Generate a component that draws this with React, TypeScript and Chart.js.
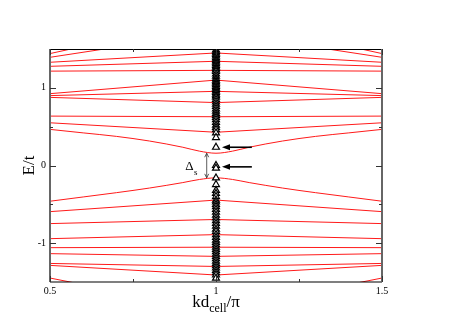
import React, { useEffect, useRef } from "react";
import { Chart, registerables } from "chart.js";

Chart.register(...registerables);

// ---- axis ranges & ticks ----
const X_MIN = 0.5;
const X_MAX = 1.5;
const Y_MIN = -1.5;
const Y_MAX = 1.5;
const xMajorTicks = [0.5, 1, 1.5];
const xMajorLabels = ["0.5", "1", "1.5"];
const xMinorTicks = [0.75, 1.25];
const yMajorTicks = [-1, 0, 1];
const yMajorLabels = ["-1", "0", "1"];
const yMinorTicks = [-0.5, 0.5];

// ---- straight (V / Λ shaped) bands: values at k = 0.5, 1.0, 1.5 ----
const bandK = [0.5, 1.0, 1.5];
const bandA = [1.441, 1.91, 1.441];
const bandB = [1.393, 1.72, 1.393];
const bandC = [1.329, 1.449, 1.329];
const bandD = [1.277, 1.342, 1.277];
const bandE = [1.215, 1.225, 1.215];
const bandF = [0.925, 1.1, 0.925];
const bandG = [0.9, 0.955, 0.9];
const bandH = [0.877, 0.81, 0.877];
const bandI = [0.636, 0.628, 0.636];
const bandJ = [0.55, 0.428, 0.55];
const bandL = [-0.594, -0.445, -0.594];
const bandM = [-0.748, -0.695, -0.748];
const bandN = [-0.942, -0.89, -0.942];
const bandO = [-1.058, -1.052, -1.058];
const bandP = [-1.135, -1.17, -1.135];
const bandQ = [-1.261, -1.3, -1.261];
const bandR = [-1.286, -1.41, -1.286];
const bandS = [-1.449, -1.87, -1.449];
const straightBands = [bandA, bandB, bandC, bandD, bandE, bandF, bandG, bandH, bandI, bandJ, bandL, bandM, bandN, bandO, bandP, bandQ, bandR, bandS];

// ---- gap bands (rounded near k = 1) ----
const gapK = [0.5, 0.6, 0.7, 0.8, 0.9, 0.95, 1.0, 1.05, 1.1, 1.2, 1.3, 1.4, 1.5];
const gapUpper = [0.465, 0.42, 0.375, 0.315, 0.235, 0.185, 0.158, 0.185, 0.235, 0.315, 0.375, 0.42, 0.465];
const gapLower = [-0.46, -0.405, -0.35, -0.29, -0.22, -0.18, -0.159, -0.18, -0.22, -0.29, -0.35, -0.405, -0.46];

// ---- discrete levels (triangles) at k = 1 ----
const levelK = 1.0;
const levels = [
  1.49, 1.47, 1.45, 1.43, 1.41, 1.39, 1.37, 1.35, 1.33, 1.31, 1.29, 1.27, 1.25, 1.23, 1.21, 1.18,
  1.15, 1.12, 1.1, 1.08, 1.06, 1.04, 1.02, 1.0, 0.98, 0.96, 0.94, 0.92, 0.9, 0.88, 0.85, 0.82,
  0.79, 0.76, 0.73, 0.7, 0.67, 0.645, 0.62, 0.59, 0.555, 0.52, 0.49, 0.46, 0.42, 0.36,
  0.235, 0.0, -0.035,
  -0.16, -0.245, -0.32, -0.36, -0.4, -0.445, -0.47, -0.5, -0.53, -0.565, -0.6, -0.64, -0.675,
  -0.71, -0.745, -0.78, -0.82, -0.85, -0.89, -0.925, -0.96, -0.99, -1.02, -1.05, -1.08, -1.11,
  -1.14, -1.17, -1.2, -1.23, -1.26, -1.29, -1.32, -1.35, -1.38, -1.41, -1.45,
];

// ---- annotations ----
const arrowLevels = [0.235, -0.0175];
const arrowTipK = 1.018;
const arrowTailK = 1.108;
const deltaK = 0.972;
const deltaTop = 0.158;
const deltaBottom = -0.159;
const deltaLabelK = 0.92;

const SERIF = '"Liberation Serif", "DejaVu Serif", serif';

const decorPlugin = {
  id: "decor",
  afterDatasetsDraw(chart: any) {
    const { ctx, chartArea: a, scales } = chart;
    const xs = scales.x;
    const ys = scales.y;
    ctx.save();

    // frame
    ctx.strokeStyle = "#000";
    ctx.lineWidth = 1.2;
    ctx.beginPath();
    ctx.moveTo(a.left, a.top + 0.5);
    ctx.lineTo(a.right, a.top + 0.5);
    ctx.moveTo(a.left, a.bottom);
    ctx.lineTo(a.right, a.bottom);
    ctx.stroke();
    ctx.strokeStyle = "#666";
    ctx.lineWidth = 2;
    ctx.beginPath();
    ctx.moveTo(a.left, a.top);
    ctx.lineTo(a.left, a.bottom);
    ctx.moveTo(a.right, a.top);
    ctx.lineTo(a.right, a.bottom);
    ctx.stroke();

    // inward ticks
    ctx.strokeStyle = "#333";
    ctx.lineWidth = 1;
    ctx.beginPath();
    const yt = (v: number, len: number) => {
      const p = Math.round(ys.getPixelForValue(v)) + 0.5;
      ctx.moveTo(a.left, p);
      ctx.lineTo(a.left + len, p);
      ctx.moveTo(a.right, p);
      ctx.lineTo(a.right - len, p);
    };
    const xt = (v: number, len: number) => {
      const p = Math.round(xs.getPixelForValue(v)) + 0.5;
      ctx.moveTo(p, a.top);
      ctx.lineTo(p, a.top + len);
      ctx.moveTo(p, a.bottom);
      ctx.lineTo(p, a.bottom - len);
    };
    yMajorTicks.forEach((v) => yt(v, 6));
    yMinorTicks.forEach((v) => yt(v, 3));
    xMajorTicks.forEach((v) => xt(v, 6));
    xMinorTicks.forEach((v) => xt(v, 3));
    ctx.stroke();

    // Δs double arrow
    const dx = xs.getPixelForValue(deltaK);
    const dt = ys.getPixelForValue(deltaTop);
    const db = ys.getPixelForValue(deltaBottom);
    ctx.strokeStyle = "#333";
    ctx.lineWidth = 0.8;
    ctx.beginPath();
    ctx.moveTo(dx, dt);
    ctx.lineTo(dx, db);
    ctx.moveTo(dx - 2, dt + 4);
    ctx.lineTo(dx, dt);
    ctx.lineTo(dx + 2, dt + 4);
    ctx.moveTo(dx - 2, db - 4);
    ctx.lineTo(dx, db);
    ctx.lineTo(dx + 2, db - 4);
    ctx.stroke();

    // Δs label
    const lx = xs.getPixelForValue(deltaLabelK);
    const ly = ys.getPixelForValue((deltaTop + deltaBottom) / 2);
    ctx.fillStyle = "#000";
    ctx.textAlign = "center";
    ctx.textBaseline = "alphabetic";
    ctx.font = `13px ${SERIF}`;
    ctx.fillText("Δ", lx, ly + 4);
    ctx.font = `9px ${SERIF}`;
    ctx.textAlign = "left";
    ctx.fillText("s", lx + 4.5, ly + 9);

    // horizontal arrows
    const tip = xs.getPixelForValue(arrowTipK);
    const tail = xs.getPixelForValue(arrowTailK);
    arrowLevels.forEach((v) => {
      const py = ys.getPixelForValue(v);
      ctx.strokeStyle = "#000";
      ctx.lineWidth = 1.6;
      ctx.beginPath();
      ctx.moveTo(tail, py);
      ctx.lineTo(tip + 6, py);
      ctx.stroke();
      ctx.fillStyle = "#000";
      ctx.beginPath();
      ctx.moveTo(tip, py);
      ctx.lineTo(tip + 8, py - 3);
      ctx.lineTo(tip + 8, py + 3);
      ctx.closePath();
      ctx.fill();
    });

    ctx.restore();
  },
  afterDraw(chart: any) {
    const { ctx, chartArea: a } = chart;
    ctx.save();
    ctx.fillStyle = "#000";
    // y title
    ctx.translate(30, (a.top + a.bottom) / 2);
    ctx.rotate(-Math.PI / 2);
    ctx.font = `17px ${SERIF}`;
    ctx.textAlign = "center";
    ctx.textBaseline = "middle";
    ctx.fillText("E/t", 0, 0);
    ctx.restore();

    // x title: kd_cell/π
    ctx.save();
    ctx.fillStyle = "#000";
    ctx.textBaseline = "alphabetic";
    ctx.textAlign = "left";
    const big = `17px ${SERIF}`;
    const small = `12px ${SERIF}`;
    ctx.font = big;
    const w1 = ctx.measureText("kd").width;
    const w3 = ctx.measureText("/π").width;
    ctx.font = small;
    const w2 = ctx.measureText("cell").width;
    const total = w1 + w2 + w3;
    let x0 = (a.left + a.right) / 2 - total / 2;
    const base = a.bottom + 25;
    ctx.font = big;
    ctx.fillText("kd", x0, base);
    x0 += w1;
    ctx.font = small;
    ctx.fillText("cell", x0, base + 5);
    x0 += w2;
    ctx.font = big;
    ctx.fillText("/π", x0, base);
    ctx.restore();
  },
};

export default function App() {
  const ref = useRef<HTMLCanvasElement | null>(null);

  useEffect(() => {
    if (!ref.current) return;
    const lineSets: any[] = straightBands.map((b) => ({
      type: "line",
      data: b.map((v, i) => ({ x: bandK[i], y: v })),
      borderColor: "#ff1a1a",
      borderWidth: 1,
      pointRadius: 0,
      tension: 0,
      order: 2,
    }));
    [gapUpper, gapLower].forEach((g) =>
      lineSets.push({
        type: "line",
        data: g.map((v, i) => ({ x: gapK[i], y: v })),
        borderColor: "#ff1a1a",
        borderWidth: 1,
        pointRadius: 0,
        cubicInterpolationMode: "monotone",
        order: 2,
      })
    );
    const levelSet = {
      type: "scatter",
      data: levels.map((v) => ({ x: levelK, y: v })),
      pointStyle: "triangle",
      pointRadius: 4,
      pointBorderColor: "#000",
      pointBackgroundColor: "#fff",
      pointBorderWidth: 1.2,
      showLine: false,
      order: 0,
    };

    const chart = new Chart(ref.current, {
      type: "line",
      data: { datasets: [levelSet, ...lineSets] as any },
      options: {
        responsive: false,
        animation: false,
        devicePixelRatio: 1,
        layout: { padding: { left: 0, top: 49, right: 75, bottom: 0 } },
        plugins: { legend: { display: false }, tooltip: { enabled: false } },
        scales: {
          x: {
            type: "linear",
            min: X_MIN,
            max: X_MAX,
            grid: { display: false, drawTicks: false },
            border: { display: false },
            afterFit: (s: any) => {
              s.height = 41;
            },
            ticks: {
              stepSize: 0.5,
              autoSkip: false,
              maxRotation: 0,
              padding: 3,
              color: "#000",
              font: { family: SERIF, size: 10 },
              callback: (v: any) => {
                const i = xMajorTicks.indexOf(Number(v));
                return i >= 0 ? xMajorLabels[i] : "";
              },
            },
          },
          y: {
            type: "linear",
            min: Y_MIN,
            max: Y_MAX,
            grid: { display: false, drawTicks: false },
            border: { display: false },
            afterFit: (s: any) => {
              s.width = 50;
            },
            ticks: {
              stepSize: 0.5,
              autoSkip: false,
              padding: 4,
              color: "#000",
              font: { family: SERIF, size: 10 },
              callback: (v: any) => {
                const i = yMajorTicks.indexOf(Number(v));
                return i >= 0 ? yMajorLabels[i] : "";
              },
            },
          },
        },
      } as any,
      plugins: [decorPlugin],
    });
    return () => chart.destroy();
  }, []);

  return (
    <div style={{ position: "fixed", left: 0, top: 0, width: 457, height: 323, background: "#fff" }}>
      <canvas ref={ref} width={457} height={323} style={{ display: "block" }} />
    </div>
  );
}
